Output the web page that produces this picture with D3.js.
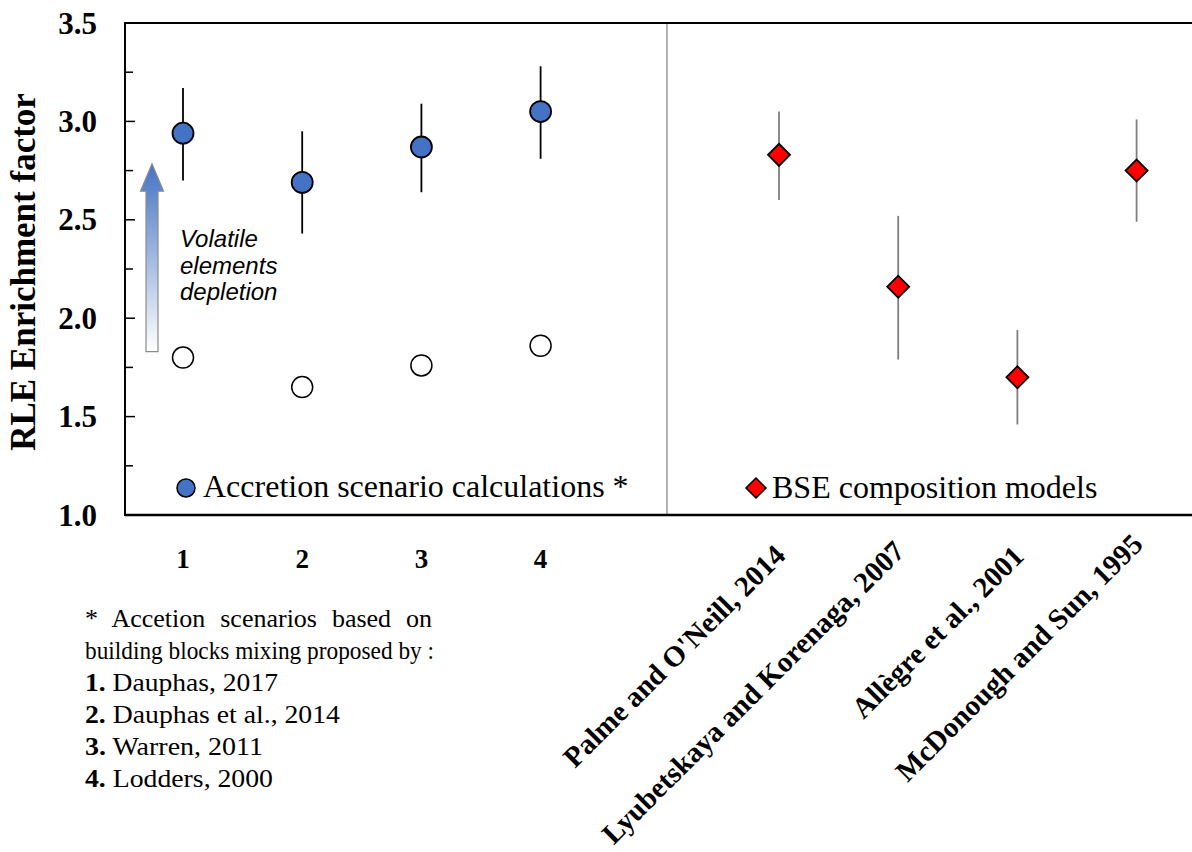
<!DOCTYPE html>
<html><head><meta charset="utf-8">
<script src="https://cdn.jsdelivr.net/npm/d3@7"></script>
<style>body{margin:0;background:#fff;} svg{display:block;}</style>
</head><body>
<svg id="chart" width="1192" height="852"></svg>
<script>
// ---- data ----
const scenarioLabels = ["1", "2", "3", "4"];
const scenarioPos = [1, 2, 3, 4];
const scenarioValues = [2.94, 2.69, 2.87, 3.05];
const scenarioLow = [2.70, 2.43, 2.64, 2.81];
const scenarioHigh = [3.17, 2.95, 3.09, 3.28];
const depletedValues = [1.80, 1.65, 1.76, 1.86];

const modelLabels = ["Palme and O'Neill, 2014", "Lyubetskaya and Korenaga, 2007", "Allègre et al., 2001", "McDonough and Sun, 1995"];
const modelPos = [6, 7, 8, 9];
const modelValues = [2.83, 2.16, 1.70, 2.75];
const modelLow = [2.60, 1.79, 1.46, 2.49];
const modelHigh = [3.05, 2.52, 1.94, 3.01];

const yTicks = [1.0, 1.5, 2.0, 2.5, 3.0, 3.5];
const yMinorTicks = [1.25, 1.75, 2.25, 2.75, 3.25];
const yTitle = "RLE Enrichment factor";
const legend1 = "Accretion scenario calculations *";
const legend2 = "BSE composition models";
const arrowText = ["Volatile", "elements", "depletion"];
const footLines = [
  {b: "", t: "* Accetion scenarios based on"},
  {b: "", t: "building blocks mixing proposed by :"},
  {b: "1.", t: " Dauphas, 2017"},
  {b: "2.", t: " Dauphas et al., 2014"},
  {b: "3.", t: " Warren, 2011"},
  {b: "4.", t: " Lodders, 2000"}
];
const footWidths = [347, 349, 193, 255, 178, 188];

// ---- layout ----
const svg = d3.select("#chart");
const pLeft = 125, pTop = 23, pBottom = 515, pRight = 1192;
const serif = "'Liberation Serif','Times New Roman',serif";
const sans = "'Liberation Sans',Arial,sans-serif";

const x = d3.scaleLinear().domain([1, 9]).range([183, 1136.6]);
const y = d3.scaleLinear().domain([1, 3.5]).range([pBottom, pTop]);
const labelY = [557, 553, 558, 546];

const blue = "#4472C4";

// defs gradient
const defs = svg.append("defs");
const grad = defs.append("linearGradient").attr("id", "ag").attr("x1", 0).attr("y1", 0).attr("x2", 0).attr("y2", 1);
grad.append("stop").attr("offset", "0%").attr("stop-color", blue);
grad.append("stop").attr("offset", "100%").attr("stop-color", "#ffffff");

// divider
svg.append("line").attr("x1", x(5.06)).attr("x2", x(5.06)).attr("y1", pTop).attr("y2", pBottom)
  .attr("stroke", "#7f7f7f").attr("stroke-width", 1.2);

// axes frame
svg.append("line").attr("x1", pLeft).attr("x2", pRight).attr("y1", pTop).attr("y2", pTop).attr("stroke", "#000").attr("stroke-width", 2);
svg.append("line").attr("x1", pLeft).attr("x2", pRight).attr("y1", pBottom).attr("y2", pBottom).attr("stroke", "#000").attr("stroke-width", 2.5);
svg.append("line").attr("x1", pLeft).attr("x2", pLeft).attr("y1", pTop - 1).attr("y2", pBottom + 1).attr("stroke", "#000").attr("stroke-width", 2);

// y ticks
svg.selectAll(".ymaj").data(yTicks).join("line")
  .attr("x1", pLeft).attr("x2", pLeft + 10).attr("y1", d => y(d)).attr("y2", d => y(d))
  .attr("stroke", "#000").attr("stroke-width", 1.5);
svg.selectAll(".ymin").data(yMinorTicks).join("line")
  .attr("x1", pLeft).attr("x2", pLeft + 8).attr("y1", d => y(d)).attr("y2", d => y(d))
  .attr("stroke", "#000").attr("stroke-width", 1.5);
svg.selectAll(".ylab").data(yTicks).join("text")
  .attr("x", 97).attr("y", d => y(d)).attr("dy", "0.34em")
  .attr("text-anchor", "end").attr("font-family", serif).attr("font-weight", "bold").attr("font-size", 31)
  .text(d => d.toFixed(1));

// y title
svg.append("text").attr("transform", "translate(35,272) rotate(-90)")
  .attr("text-anchor", "middle").attr("font-family", serif).attr("font-weight", "bold").attr("font-size", 35)
  .text(yTitle);

// x labels
svg.selectAll(".xlab").data(scenarioLabels).join("text")
  .attr("x", (d, i) => x(scenarioPos[i])).attr("y", 568)
  .attr("text-anchor", "middle").attr("font-family", serif).attr("font-weight", "bold").attr("font-size", 27)
  .text(d => d);
svg.selectAll(".mlab").data(modelLabels).join("text")
  .attr("transform", (d, i) => `translate(${x(modelPos[i]) + 8},${labelY[i]}) rotate(-45)`)
  .attr("text-anchor", "end").attr("font-family", serif).attr("font-weight", "bold").attr("font-size", 29)
  .text(d => d);

// arrow annotation
const ax = x(0.74), aTop = y(2.785), aBot = y(1.83), headBase = y(2.645);
const arrowPath = d3.path();
arrowPath.moveTo(ax, aTop);
arrowPath.lineTo(ax + 11.5, headBase);
arrowPath.lineTo(ax + 6, headBase);
arrowPath.lineTo(ax + 6, aBot);
arrowPath.lineTo(ax - 6, aBot);
arrowPath.lineTo(ax - 6, headBase);
arrowPath.lineTo(ax - 11.5, headBase);
arrowPath.closePath();
svg.append("path").attr("d", arrowPath.toString()).attr("fill", "url(#ag)")
  .attr("stroke", "#8c8c8c").attr("stroke-width", 1.2);
svg.selectAll(".atext").data(arrowText).join("text")
  .attr("x", 180).attr("y", (d, i) => 247 + i * 26.5)
  .attr("font-family", sans).attr("font-style", "italic").attr("font-size", 24)
  .text(d => d);

// scenario error bars
svg.selectAll(".serr").data(scenarioValues).join("line")
  .attr("x1", (d, i) => x(scenarioPos[i])).attr("x2", (d, i) => x(scenarioPos[i]))
  .attr("y1", (d, i) => y(scenarioLow[i])).attr("y2", (d, i) => y(scenarioHigh[i]))
  .attr("stroke", "#000").attr("stroke-width", 1.8);
svg.selectAll(".spt").data(scenarioValues).join("circle")
  .attr("cx", (d, i) => x(scenarioPos[i])).attr("cy", d => y(d)).attr("r", 10.5)
  .attr("fill", blue).attr("stroke", "#000").attr("stroke-width", 1.8);
svg.selectAll(".dpt").data(depletedValues).join("circle")
  .attr("cx", (d, i) => x(scenarioPos[i])).attr("cy", d => y(d)).attr("r", 10.5)
  .attr("fill", "#fff").attr("stroke", "#000").attr("stroke-width", 1.5);

// model error bars + diamonds
svg.selectAll(".merr").data(modelValues).join("line")
  .attr("x1", (d, i) => x(modelPos[i])).attr("x2", (d, i) => x(modelPos[i]))
  .attr("y1", (d, i) => y(modelLow[i])).attr("y2", (d, i) => y(modelHigh[i]))
  .attr("stroke", "#7f7f7f").attr("stroke-width", 1.8);
const diamond = d3.symbol().type(d3.symbolSquare).size(242);
svg.selectAll(".mpt").data(modelValues).join("path")
  .attr("d", diamond)
  .attr("transform", (d, i) => `translate(${x(modelPos[i])},${y(d)}) rotate(45)`)
  .attr("fill", "#ff0000").attr("stroke", "#000").attr("stroke-width", 1.8);

// legends
svg.append("circle").attr("cx", 186).attr("cy", 488).attr("r", 9)
  .attr("fill", blue).attr("stroke", "#000").attr("stroke-width", 1.5);
svg.append("text").attr("x", 203).attr("y", 497).attr("font-family", serif).attr("font-size", 32).text(legend1);
svg.append("path").attr("d", d3.symbol().type(d3.symbolSquare).size(200))
  .attr("transform", "translate(756,488) rotate(45)")
  .attr("fill", "#ff0000").attr("stroke", "#000").attr("stroke-width", 1.5);
svg.append("text").attr("x", 772).attr("y", 498).attr("font-family", serif).attr("font-size", 32).text(legend2);

// footnote
const foot = svg.selectAll(".foot").data(footLines).join("text")
  .attr("x", 85).attr("y", (d, i) => 627 + i * 32)
  .attr("font-family", serif).attr("font-size", 26);
foot.append("tspan").attr("font-weight", "bold").text(d => d.b);
foot.append("tspan").attr("xml:space", "preserve").text(d => d.t);
foot.each(function(d, i) {
  const el = d3.select(this);
  const L = this.getComputedTextLength();
  const T = footWidths[i];
  const nSpaces = (d.b + d.t).split(" ").length - 1;
  if (T > L && i < 2) {
    el.attr("word-spacing", (T - L) / nSpaces);
  } else {
    el.attr("textLength", T).attr("lengthAdjust", "spacingAndGlyphs");
  }
});
</script>
</body></html>
